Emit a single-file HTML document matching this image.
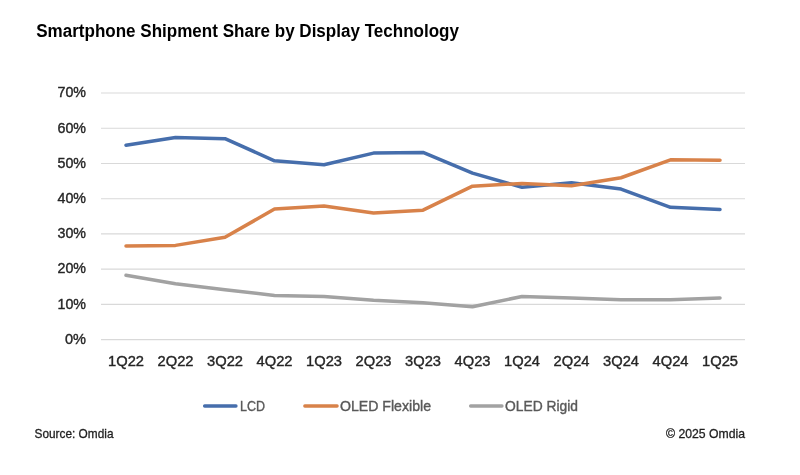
<!DOCTYPE html>
<html><head><meta charset="utf-8">
<style>
html,body{margin:0;padding:0;background:#fff;}
body{width:800px;height:475px;overflow:hidden;position:relative;font-family:"Liberation Sans",sans-serif;}
svg{position:absolute;left:0;top:0;will-change:transform;}
.ax{font-family:"Liberation Sans",sans-serif;font-size:15px;fill:#262626;stroke:#262626;stroke-width:0.4px;}
.lg{font-family:"Liberation Sans",sans-serif;font-size:15px;fill:#595959;stroke:#595959;stroke-width:0.4px;}
.tt{font-family:"Liberation Sans",sans-serif;font-size:18px;font-weight:bold;fill:#000;}
.src{font-family:"Liberation Sans",sans-serif;font-size:12.2px;fill:#1f1f1f;stroke:#1f1f1f;stroke-width:0.3px;}
</style></head><body>
<svg width="800" height="475" viewBox="0 0 800 475">
<text x="36.2" y="36.5" class="tt" textLength="422.8" lengthAdjust="spacingAndGlyphs">Smartphone Shipment Share by Display Technology</text>
<line x1="101" x2="745" y1="339.6" y2="339.6" stroke="#d9d9d9" stroke-width="1.1"/>
<line x1="101" x2="745" y1="304.4" y2="304.4" stroke="#d9d9d9" stroke-width="1.1"/>
<line x1="101" x2="745" y1="269.1" y2="269.1" stroke="#d9d9d9" stroke-width="1.1"/>
<line x1="101" x2="745" y1="233.9" y2="233.9" stroke="#d9d9d9" stroke-width="1.1"/>
<line x1="101" x2="745" y1="198.7" y2="198.7" stroke="#d9d9d9" stroke-width="1.1"/>
<line x1="101" x2="745" y1="163.5" y2="163.5" stroke="#d9d9d9" stroke-width="1.1"/>
<line x1="101" x2="745" y1="128.2" y2="128.2" stroke="#d9d9d9" stroke-width="1.1"/>
<line x1="101" x2="745" y1="93.0" y2="93.0" stroke="#d9d9d9" stroke-width="1.1"/>

<text x="86.0" y="343.9" text-anchor="end" class="ax" textLength="21" lengthAdjust="spacingAndGlyphs">0%</text>
<text x="86.0" y="308.7" text-anchor="end" class="ax" textLength="28.5" lengthAdjust="spacingAndGlyphs">10%</text>
<text x="86.0" y="273.4" text-anchor="end" class="ax" textLength="28.5" lengthAdjust="spacingAndGlyphs">20%</text>
<text x="86.0" y="238.2" text-anchor="end" class="ax" textLength="28.5" lengthAdjust="spacingAndGlyphs">30%</text>
<text x="86.0" y="203.0" text-anchor="end" class="ax" textLength="28.5" lengthAdjust="spacingAndGlyphs">40%</text>
<text x="86.0" y="167.8" text-anchor="end" class="ax" textLength="28.5" lengthAdjust="spacingAndGlyphs">50%</text>
<text x="86.0" y="132.5" text-anchor="end" class="ax" textLength="28.5" lengthAdjust="spacingAndGlyphs">60%</text>
<text x="86.0" y="97.3" text-anchor="end" class="ax" textLength="28.5" lengthAdjust="spacingAndGlyphs">70%</text>

<text x="126.0" y="366.4" text-anchor="middle" class="ax" textLength="36" lengthAdjust="spacingAndGlyphs">1Q22</text>
<text x="175.5" y="366.4" text-anchor="middle" class="ax" textLength="36" lengthAdjust="spacingAndGlyphs">2Q22</text>
<text x="225.0" y="366.4" text-anchor="middle" class="ax" textLength="36" lengthAdjust="spacingAndGlyphs">3Q22</text>
<text x="274.5" y="366.4" text-anchor="middle" class="ax" textLength="36" lengthAdjust="spacingAndGlyphs">4Q22</text>
<text x="324.0" y="366.4" text-anchor="middle" class="ax" textLength="36" lengthAdjust="spacingAndGlyphs">1Q23</text>
<text x="373.5" y="366.4" text-anchor="middle" class="ax" textLength="36" lengthAdjust="spacingAndGlyphs">2Q23</text>
<text x="423.0" y="366.4" text-anchor="middle" class="ax" textLength="36" lengthAdjust="spacingAndGlyphs">3Q23</text>
<text x="472.5" y="366.4" text-anchor="middle" class="ax" textLength="36" lengthAdjust="spacingAndGlyphs">4Q23</text>
<text x="522.0" y="366.4" text-anchor="middle" class="ax" textLength="36" lengthAdjust="spacingAndGlyphs">1Q24</text>
<text x="571.5" y="366.4" text-anchor="middle" class="ax" textLength="36" lengthAdjust="spacingAndGlyphs">2Q24</text>
<text x="621.0" y="366.4" text-anchor="middle" class="ax" textLength="36" lengthAdjust="spacingAndGlyphs">3Q24</text>
<text x="670.5" y="366.4" text-anchor="middle" class="ax" textLength="36" lengthAdjust="spacingAndGlyphs">4Q24</text>
<text x="720.0" y="366.4" text-anchor="middle" class="ax" textLength="36" lengthAdjust="spacingAndGlyphs">1Q25</text>

<polyline points="126.0,145.33 175.5,137.58 225.0,138.64 274.5,160.83 324.0,164.71 373.5,153.08 423.0,152.38 472.5,173.16 522.0,187.25 571.5,182.67 621.0,189.02 670.5,207.34 720.0,209.45" fill="none" stroke="#466eac" stroke-width="3.5" stroke-linejoin="round" stroke-linecap="round"/>
<polyline points="126.0,246.09 175.5,245.38 225.0,237.28 274.5,209.10 324.0,205.93 373.5,212.97 423.0,210.15 472.5,186.20 522.0,183.38 571.5,185.84 621.0,177.74 670.5,159.77 720.0,160.13" fill="none" stroke="#d8824a" stroke-width="3.5" stroke-linejoin="round" stroke-linecap="round"/>
<polyline points="126.0,275.33 175.5,283.78 225.0,289.77 274.5,295.41 324.0,296.47 373.5,300.34 423.0,302.81 472.5,306.68 522.0,296.47 571.5,297.88 621.0,299.64 670.5,299.64 720.0,297.88" fill="none" stroke="#a2a2a2" stroke-width="3.5" stroke-linejoin="round" stroke-linecap="round"/>
<line x1="204.6" x2="236" y1="406" y2="406" stroke="#466eac" stroke-width="3.3" stroke-linecap="round"/>
<text x="240" y="410.7" class="lg" textLength="25" lengthAdjust="spacingAndGlyphs">LCD</text>
<line x1="304.8" x2="337.1" y1="406" y2="406" stroke="#d8824a" stroke-width="3.3" stroke-linecap="round"/>
<text x="340" y="410.7" class="lg" textLength="91" lengthAdjust="spacingAndGlyphs">OLED Flexible</text>
<line x1="470.6" x2="502" y1="406" y2="406" stroke="#a2a2a2" stroke-width="3.3" stroke-linecap="round"/>
<text x="505" y="410.7" class="lg" textLength="73" lengthAdjust="spacingAndGlyphs">OLED Rigid</text>
<text x="34.5" y="437.7" class="src" textLength="79" lengthAdjust="spacingAndGlyphs">Source: Omdia</text>
<text x="666" y="437.7" class="src" textLength="79" lengthAdjust="spacingAndGlyphs">© 2025 Omdia</text>
</svg>
</body></html>
